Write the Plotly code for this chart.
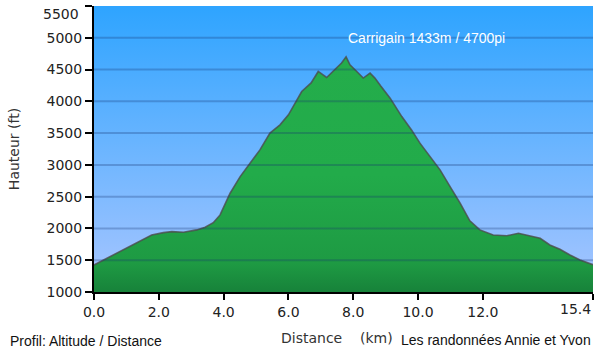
import plotly.graph_objects as go

distance_km = [0.00, 0.49, 0.85, 1.21, 1.52, 1.78, 2.14, 2.40, 2.76, 3.17, 3.43, 3.68, 3.89, 4.04,
               4.20, 4.51, 4.81, 5.12, 5.43, 5.74, 6.00, 6.26, 6.41, 6.70, 6.92, 7.18, 7.44, 7.64,
               7.78, 7.90, 8.11, 8.31, 8.52, 8.67, 8.85, 9.14, 9.50, 9.80, 10.06, 10.37, 10.68,
               10.99, 11.30, 11.60, 11.91, 12.32, 12.74, 13.10, 13.46, 13.77, 14.07, 14.38, 14.69,
               15.00, 15.40]
altitude_ft = [1425, 1556, 1646, 1740, 1830, 1898, 1934, 1950, 1940, 1977, 2019, 2091, 2213, 2370,
               2554, 2816, 3027, 3236, 3500, 3630, 3788, 4024, 4155, 4290, 4470, 4375, 4497, 4602,
               4700, 4575, 4470, 4366, 4444, 4366, 4240, 4050, 3760, 3550, 3342, 3131, 2922,
               2658, 2397, 2120, 1977, 1898, 1885, 1925, 1882, 1846, 1740, 1672, 1583,
               1504, 1430]

x_ticks = [0, 2, 4, 6, 8, 10, 12, 15.4]
x_ticktext = ["0.0", "2.0", "4.0", "6.0", "8.0", "10.0", "12.0", "15.4"]
y_ticks = [1000, 1500, 2000, 2500, 3000, 3500, 4000, 4500, 5000, 5500]
y_ticktext = ["1000", "1500", "2000", "2500", "3000", "3500", "4000", "4500", "5000", "5500"]
x_range = [0, 15.4]
y_range = [1000, 5500]

peak_label = "Carrigain 1433m / 4700pi"
peak_idx = altitude_ft.index(max(altitude_ft))

fig = go.Figure()

# sky background gradient
fig.add_trace(go.Scatter(
    x=[x_range[0], x_range[1], x_range[1], x_range[0], x_range[0]],
    y=[y_range[0], y_range[0], y_range[1], y_range[1], y_range[0]],
    fill="toself", mode="none",
    fillgradient=dict(type="vertical", start=y_range[0], stop=y_range[1],
                      colorscale=[[0, "#a9c6ff"], [1, "#2ea4ff"]]),
    hoverinfo="skip", showlegend=False))

# terrain profile
fig.add_trace(go.Scatter(
    x=distance_km, y=altitude_ft, mode="lines", fill="tozeroy",
    line=dict(color="rgba(75,75,75,0.8)", width=1.6),
    fillgradient=dict(type="vertical", start=y_range[0], stop=max(altitude_ft),
                      colorscale=[[0, "#17823a"], [0.12, "#1e9a43"], [0.5, "#22ab4a"], [1, "#24ad4b"]]),
    hoverinfo="skip", showlegend=False))

shapes = []
for v in y_ticks[1:-1]:
    shapes.append(dict(type="line", xref="x", yref="y", x0=x_range[0], x1=x_range[1], y0=v, y1=v,
                       line=dict(color="rgba(20,50,110,0.28)", width=2), layer="above"))

tick_font = dict(family="DejaVu Sans, Verdana", size=14, color="#222")

annotations = [
    dict(x=distance_km[peak_idx], y=5000, xref="x", yref="y", text=peak_label, showarrow=False,
         xanchor="left", yanchor="middle",
         font=dict(family="Liberation Sans, Arial", size=14, color="white")),
    # last x tick label sits left of its tick
    dict(x=x_ticks[-1], y=-0.025, xref="x", yref="paper", text=x_ticktext[-1], showarrow=False,
         xanchor="right", yanchor="top", font=tick_font),
    # top y tick label sits just below its tick
    dict(x=-13/499, y=y_ticks[-1], xref="paper", yref="y", text=y_ticktext[-1], showarrow=False,
         xanchor="right", yanchor="top", yshift=2, font=tick_font),
    dict(x=-86/499, y=-49/286, xref="paper", yref="paper", text="Profil: Altitude / Distance",
         showarrow=False, xanchor="left", yanchor="middle",
         font=dict(family="Liberation Sans, Arial", size=14, color="#111")),
    dict(x=1.0, y=-48/286, xref="paper", yref="paper", text="Les randonnées Annie et Yvon",
         showarrow=False, xanchor="right", yanchor="middle",
         font=dict(family="Liberation Sans, Arial", size=14, color="#111")),
    dict(x=(337-94)/499, y=-46/286, xref="paper", yref="paper", text="Distance&nbsp;&nbsp;&nbsp;&nbsp;(km)",
         showarrow=False, xanchor="center", yanchor="middle",
         font=dict(family="DejaVu Sans, Verdana", size=14, color="#333")),
]

fig.update_layout(
    width=600, height=354,
    margin=dict(l=94, r=7, t=6, b=62, autoexpand=False),
    paper_bgcolor="white", plot_bgcolor="white",
    shapes=shapes, annotations=annotations,
    xaxis=dict(range=x_range, tickvals=x_ticks, ticktext=x_ticktext[:-1] + [""], showgrid=False,
               zeroline=False, showline=True, linecolor="black", linewidth=2, ticks="outside",
               ticklen=6, tickwidth=2, tickcolor="black", automargin=False, tickfont=tick_font),
    yaxis=dict(range=y_range, tickvals=y_ticks, ticktext=y_ticktext[:-1] + [""], showgrid=False,
               zeroline=False, showline=True, linecolor="black", linewidth=2, ticks="outside",
               ticklen=7, tickwidth=2, tickcolor="black", automargin=False, tickfont=tick_font,
               title=dict(text="Hauteur (ft)", standoff=24,
                          font=dict(family="DejaVu Sans, Verdana", size=14, color="#333"))),
)

fig.write_html("out.html")
